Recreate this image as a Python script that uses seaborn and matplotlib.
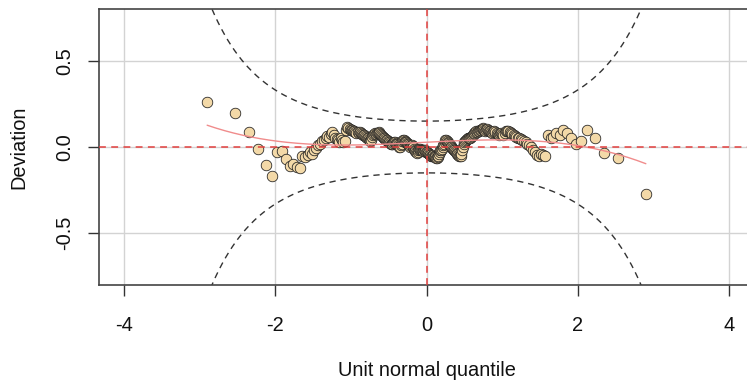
import numpy as np
import pandas as pd
import matplotlib
matplotlib.use("Agg")
import matplotlib.pyplot as plt
import seaborn as sns
from statistics import NormalDist

# Ordered deviations (sample quantile minus unit normal quantile)
deviation = [
    0.26, 0.20, 0.085, -0.01, -0.105, -0.17, -0.03, -0.025, -0.07, -0.11,
    -0.10, -0.115, -0.12, -0.055, -0.06, -0.045, -0.03, -0.04, -0.015, -0.008,
    0.01, 0.02, 0.035, 0.04, 0.055, 0.065, 0.06, 0.075, 0.085, 0.07,
    0.055, 0.045, 0.04, 0.03, 0.05, 0.04, 0.03, 0.035, 0.10, 0.115,
    0.11, 0.105, 0.10, 0.10, 0.095, 0.09, 0.085, 0.08, 0.085, 0.08,
    0.085, 0.08, 0.075, 0.07, 0.07, 0.065, 0.06, 0.055, 0.05, 0.045,
    0.04, 0.035, 0.04, 0.06, 0.07, 0.075, 0.08, 0.075, 0.08, 0.08,
    0.085, 0.08, 0.075, 0.07, 0.065, 0.06, 0.055, 0.05, 0.045, 0.04,
    0.04, 0.035, 0.03, 0.03, 0.025, 0.02, 0.02, 0.015, 0.025, 0.03,
    0.03, 0.025, 0.02, 0.015, 0.01, 0.005, 0.0, 0.0, 0.01, 0.02,
    0.035, 0.04, 0.04, 0.035, 0.03, 0.03, 0.025, 0.02, 0.015, 0.01,
    0.005, 0.0, 0.005, 0.01, 0.005, 0.0, -0.01, -0.02, -0.025, -0.03,
    -0.035, -0.03, -0.02, -0.01, -0.01, -0.015, -0.015, -0.02, -0.02, -0.025,
    -0.02, -0.02, -0.025, -0.03, -0.03, -0.035, -0.035, -0.04, -0.045, -0.045,
    -0.05, -0.055, -0.05, -0.045, -0.05, -0.055, -0.06, -0.065, -0.065, -0.06,
    -0.055, -0.04, -0.03, -0.02, -0.015, -0.01, 0.0, 0.01, 0.02, 0.03,
    0.04, 0.04, 0.035, 0.03, 0.025, 0.02, 0.01, 0.005, 0.0, -0.005,
    -0.01, -0.015, -0.02, -0.025, -0.03, -0.035, -0.04, -0.045, -0.05, -0.055,
    -0.05, -0.04, -0.02, 0.0, 0.02, 0.03, 0.035, 0.04, 0.045, 0.05,
    0.05, 0.055, 0.055, 0.06, 0.065, 0.07, 0.075, 0.08, 0.085, 0.09,
    0.085, 0.09, 0.095, 0.10, 0.10, 0.105, 0.11, 0.105, 0.10, 0.095,
    0.10, 0.105, 0.10, 0.095, 0.09, 0.085, 0.08, 0.085, 0.09, 0.085,
    0.08, 0.075, 0.07, 0.075, 0.08, 0.075, 0.07, 0.08, 0.09, 0.095,
    0.09, 0.085, 0.08, 0.075, 0.07, 0.065, 0.06, 0.055, 0.05, 0.045,
    0.04, 0.035, 0.03, 0.02, 0.01, 0.0, -0.015, -0.03, -0.045, -0.05,
    -0.04, -0.045, -0.05, 0.07, 0.05, 0.06, 0.08, 0.07, 0.10, 0.08,
    0.05, 0.015, 0.035, 0.10, 0.05, -0.035, -0.065, -0.27,
]

x_ticks = [-4, -2, 0, 2, 4]
y_ticks = [-0.5, 0.0, 0.5]
y_tick_labels = ["-0.5", "0.0", "0.5"]
x_limits = (-4.33, 4.33)
y_limits = (-0.8, 0.8)
level = 0.95

# Unit normal quantiles for the ordered residuals (ppoints)
n_obs = len(deviation)
nd = NormalDist()
quantile = [nd.inv_cdf((i + 0.5) / n_obs) for i in range(n_obs)]
worm = pd.DataFrame({"quantile": quantile, "deviation": deviation})

# Pointwise confidence band for a worm plot
z = np.linspace(x_limits[0] - 0.1, x_limits[1] + 0.1, 600)
p = np.array([nd.cdf(v) for v in z])
dens = np.array([nd.pdf(v) for v in z])
se = np.sqrt(p * (1 - p) / n_obs) / dens
zcrit = -nd.inv_cdf((1 - level) / 2)
band = pd.DataFrame({"z": z, "upper": zcrit * se, "lower": -zcrit * se})

# Cubic fit through the worm
coef = np.polyfit(worm["quantile"], worm["deviation"], 3)
xs = np.linspace(min(quantile), max(quantile), 200)
fit = pd.DataFrame({"x": xs, "y": np.polyval(coef, xs)})

sns.set_theme(style="white")
plt.rcParams["font.family"] = ["Liberation Sans", "DejaVu Sans"]

W, H = 747, 383
fig = plt.figure(figsize=(W / 100, H / 100), dpi=100)
ax = fig.add_axes([99 / W, 98 / H, (754 - 99) / W, 276 / H])

for t in x_ticks:
    ax.axvline(t, color="#D3D3D3", lw=1.0, zorder=0)
for t in y_ticks:
    ax.axhline(t, color="#D3D3D3", lw=1.0, zorder=0)

dash = (0, (4.5, 3.5))
sns.lineplot(data=band, x="z", y="upper", ax=ax, color="#333333", lw=1.0,
             linestyle=dash, sort=False, zorder=2)
sns.lineplot(data=band, x="z", y="lower", ax=ax, color="#333333", lw=1.0,
             linestyle=dash, sort=False, zorder=2)

sns.scatterplot(data=worm, x="quantile", y="deviation", ax=ax, s=58,
                color="#F3D9A8", edgecolor="#1e1e1e", linewidth=0.55, zorder=3)

sns.lineplot(data=fit, x="x", y="y", ax=ax, color="#F08C8C", lw=1.0, zorder=4)
ax.axhline(0, color="#E2403F", lw=1.1, linestyle=dash, zorder=5)
ax.axvline(0, color="#E2403F", lw=1.1, linestyle=dash, zorder=5)

ax.set_xlim(*x_limits)
ax.set_ylim(*y_limits)
ax.set_xticks(x_ticks)
ax.set_xticklabels([str(t) for t in x_ticks])
ax.set_yticks(y_ticks)
ax.set_yticklabels(y_tick_labels, rotation=90, va="center")
ax.tick_params(axis="x", which="major", direction="out", length=8,
               width=1.0, color="#333333", labelsize=14.4, labelcolor="#111111",
               bottom=True, pad=14)
ax.tick_params(axis="y", which="major", direction="out", length=8,
               width=1.0, color="#333333", labelsize=14.4, labelcolor="#111111",
               left=True, pad=10)

for side in ["left", "bottom", "top", "right"]:
    ax.spines[side].set_color("#444444")
    ax.spines[side].set_linewidth(1.2)

ax.set_xlabel("Unit normal quantile", fontsize=14.4, color="#111111", labelpad=19)
ax.set_ylabel("Deviation", fontsize=14.4, color="#111111", labelpad=19)

fig.savefig("out.png", dpi=100)
